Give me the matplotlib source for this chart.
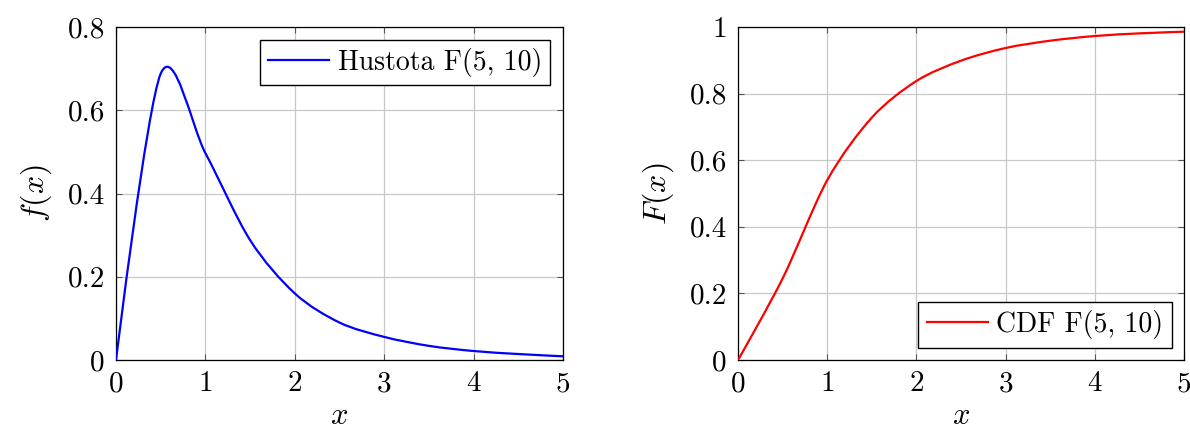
import matplotlib
matplotlib.use("Agg")
import matplotlib.pyplot as plt
from matplotlib.path import Path
from matplotlib.patches import PathPatch
from matplotlib.lines import Line2D
from matplotlib.ticker import FuncFormatter, MultipleLocator

plt.rcParams["font.family"] = ["cmr10", "DejaVu Sans"]
plt.rcParams["mathtext.fontset"] = "cm"
plt.rcParams["axes.formatter.use_mathtext"] = True
plt.rcParams["font.size"] = 21

# sample points (drawn as a smooth curve, like pgfplots)
x_vals = [0, 0.5, 1.0, 1.5, 2.0, 2.5, 3.0, 3.5, 4.0, 4.5, 5.0]
pdf_vals = [0, 0.688, 0.497, 0.288, 0.160, 0.090, 0.0555, 0.034, 0.0216, 0.0144, 0.0089]
cdf_vals = [0, 0.245, 0.540, 0.728, 0.838, 0.899, 0.937, 0.959, 0.973, 0.981, 0.986]


def smooth_path(xs, ys, tension=0.55):
    # same construction as TikZ "smooth": cubic segments, control points
    # along the chord of the neighbours
    k = 0.2775 * tension
    n = len(xs)
    verts = [(xs[0], ys[0])]
    codes = [Path.MOVETO]
    for i in range(n - 1):
        if i == 0:
            c1 = (xs[0], ys[0])
        else:
            c1 = (xs[i] + k * (xs[i + 1] - xs[i - 1]), ys[i] + k * (ys[i + 1] - ys[i - 1]))
        if i + 1 == n - 1:
            c2 = (xs[-1], ys[-1])
        else:
            c2 = (xs[i + 1] - k * (xs[i + 2] - xs[i]), ys[i + 1] - k * (ys[i + 2] - ys[i]))
        verts += [c1, c2, (xs[i + 1], ys[i + 1])]
        codes += [Path.CURVE4] * 3
    return Path(verts, codes)


fig = plt.figure(figsize=(11.9, 4.29), dpi=100)
ax1 = fig.add_axes([0.0975, 0.1608, 0.3756, 0.7762])
ax2 = fig.add_axes([0.6202, 0.1608, 0.3748, 0.7762])

fmt = FuncFormatter(lambda v, p: "{:g}".format(round(v, 6)))


def style(ax, ymax, ystep):
    ax.set_xlim(0, 5)
    ax.set_ylim(0, ymax)
    ax.xaxis.set_major_locator(MultipleLocator(1))
    ax.yaxis.set_major_locator(MultipleLocator(ystep))
    ax.xaxis.set_major_formatter(fmt)
    ax.yaxis.set_major_formatter(fmt)
    ax.grid(True, color="#c8c8c8", lw=0.9)
    ax.set_axisbelow(True)
    ax.tick_params(direction="in", length=4, width=0.8, color="#555555",
                   top=True, right=True, pad=8)
    for s in ax.spines.values():
        s.set_linewidth(0.9)
    ax.set_xlabel("$x$", fontsize=22, labelpad=4)


def draw(ax, ys, color, label, loc):
    ax.add_patch(PathPatch(smooth_path(x_vals, ys), facecolor="none",
                           edgecolor=color, lw=1.6, zorder=3))
    h = Line2D([], [], color=color, lw=1.6)
    ax.legend([h], [label], loc=loc, fancybox=False, framealpha=1,
              edgecolor="black", fontsize=20, handlelength=2.2,
              handletextpad=0.3, borderpad=0.3, borderaxespad=0.45)


draw(ax1, pdf_vals, "blue", "Hustota F(5, 10)", "upper right")
style(ax1, 0.8, 0.2)
ax1.set_ylabel("$f(x)$", fontsize=23, labelpad=10)

draw(ax2, cdf_vals, "red", "CDF F(5, 10)", "lower right")
style(ax2, 1.0, 0.2)
ax2.set_ylabel("$F(x)$", fontsize=23, labelpad=10)

fig.savefig("out.png", dpi=100)
